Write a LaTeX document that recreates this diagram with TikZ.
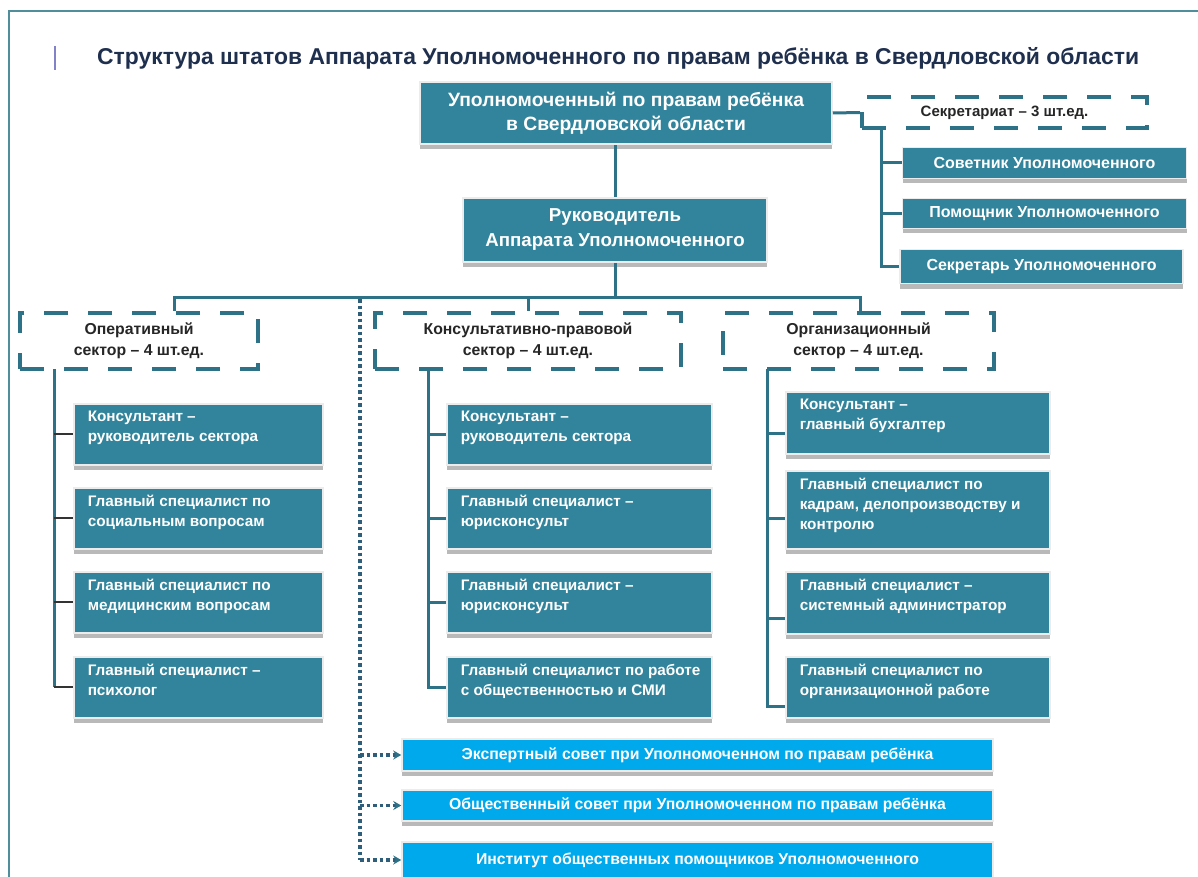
\documentclass[tikz,border=0pt]{standalone}
\usepackage{fontspec}
\setmainfont{Liberation Sans}
\usetikzlibrary{shadows,arrows.meta,calc}
\definecolor{tealfill}{HTML}{31849B}
\definecolor{tealline}{HTML}{2E7288}
\definecolor{skyfill}{HTML}{00A8EC}
\definecolor{titlecol}{HTML}{1F2F4E}
\definecolor{framecol}{HTML}{4F8E9A}
\definecolor{dotcol}{HTML}{2E5E7A}
\definecolor{dashtext}{HTML}{262626}
\newcommand{\celltxt}[3]{\parbox[c][#2pt][t]{#1pt}{\raggedright\leftskip=14pt\relax\fontsize{15.3}{20}\selectfont\vspace*{7pt}#3\par}}
\begin{document}
\begin{tikzpicture}[x=1pt,y=-1pt,
  tbox/.style={fill=tealfill, draw=gray!15, line width=1.5pt,
    drop shadow={shadow xshift=0pt, shadow yshift=-5pt, fill=gray!55, opacity=1},
    text=white, font=\bfseries, inner sep=0pt, align=center},
  cellbox/.style={tbox, align=left},
  skybox/.style={fill=skyfill, draw=gray!15, line width=1.5pt,
    drop shadow={shadow xshift=0pt, shadow yshift=-5pt, fill=gray!55, opacity=1},
    text=white, font=\bfseries\fontsize{15.8}{18}\selectfont, inner sep=0pt,
    minimum width=591pt},
  sectbox/.style={draw=tealline, line width=4pt, dash pattern=on 24pt off 20pt,
    fill=white, text=dashtext, font=\bfseries\fontsize{15.8}{21}\selectfont,
    align=center, inner sep=0pt, minimum height=56pt},
  conn/.style={draw=tealline, line width=3pt},
  thinconn/.style={draw=black!80, line width=2pt},
  dotline/.style={draw=dotcol, line width=3.5pt, dash pattern=on 3.5pt off 3pt},
  dotarrow/.style={dotline, -{Stealth[length=8pt,width=9pt,color=tealline,fill=tealline]}}
]
\useasboundingbox (0,0) rectangle (1198,877);
\fill[white] (0,0) rectangle (1198,877);
% frame
\draw[framecol, line width=2.5pt] (9,900) -- (9,11) -- (1220,11);
% title
\draw[gray!60!blue!70, line width=2pt] (55,46) -- (55,70);
\node[anchor=west, font=\bfseries\fontsize{22.9}{26}\selectfont, text=titlecol, inner sep=0pt] (title) at (97,58)
  {Структура штатов Аппарата Уполномоченного по правам ребёнка в Свердловской области};

% top boxes
\node[tbox, minimum width=412pt, minimum height=62pt, font=\bfseries\fontsize{19.3}{24}\selectfont] (boss) at (626,113)
  {Уполномоченный по правам ребёнка\\в Свердловской  области};
\node[tbox, minimum width=304pt, minimum height=64pt, font=\bfseries\fontsize{18.7}{25}\selectfont] (head) at (615,230)
  {Руководитель\\Аппарата Уполномоченного};

% secretariat
\node[sectbox, minimum width=285pt, minimum height=31pt, font=\bfseries\fontsize{15}{17}\selectfont] (secr) at (1004.5,112.5)
  {Секретариат – 3 шт.ед.};
\node[tbox, minimum width=284pt, minimum height=31pt, font=\bfseries\fontsize{16}{18}\selectfont] (sov) at (1044.5,163)
  {Советник Уполномоченного};
\node[tbox, minimum width=284pt, minimum height=30pt, font=\bfseries\fontsize{16}{18}\selectfont] (pom) at (1044.5,213.5)
  {Помощник Уполномоченного};
\node[tbox, minimum width=283pt, minimum height=34pt, font=\bfseries\fontsize{16}{18}\selectfont] (sek) at (1041.5,266.5)
  {Секретарь Уполномоченного};

% sector headers
\node[sectbox, minimum width=238pt] (sec1) at (139,341) {Оперативный\\сектор – 4 шт.ед.};
\node[sectbox, minimum width=306pt] (sec2) at (528,341) {Консультативно-правовой\\сектор – 4 шт.ед.};
\node[sectbox, minimum width=271pt] (sec3) at (858.5,341) {Организационный\\сектор – 4 шт.ед.};

% sector 1 cells
\node[cellbox, anchor=north west] (a1) at (73,403) {\celltxt{249}{61}{Консультант –\\руководитель сектора}};
\node[cellbox, anchor=north west] (a2) at (73,487) {\celltxt{249}{61}{Главный специалист по\\социальным вопросам}};
\node[cellbox, anchor=north west] (a3) at (73,571) {\celltxt{249}{61}{Главный специалист по\\медицинским вопросам}};
\node[cellbox, anchor=north west] (a4) at (73,656) {\celltxt{249}{61}{Главный специалист –\\психолог}};

% sector 2 cells
\node[cellbox, anchor=north west] (b1) at (446,403) {\celltxt{265}{61}{Консультант –\\руководитель сектора}};
\node[cellbox, anchor=north west] (b2) at (446,487) {\celltxt{265}{61}{Главный специалист –\\юрисконсульт}};
\node[cellbox, anchor=north west] (b3) at (446,571) {\celltxt{265}{61}{Главный специалист –\\юрисконсульт}};
\node[cellbox, anchor=north west] (b4) at (446,656) {\celltxt{265}{61}{Главный специалист по работе\\с общественностью и СМИ}};

% sector 3 cells
\node[cellbox, anchor=north west] (c1) at (785,391) {\celltxt{264}{62}{Консультант –\\главный бухгалтер}};
\node[cellbox, anchor=north west] (c2) at (785,470) {\celltxt{264}{78}{Главный специалист по\\кадрам, делопроизводству и\\контролю}};
\node[cellbox, anchor=north west] (c3) at (785,571) {\celltxt{264}{62}{Главный специалист –\\системный администратор}};
\node[cellbox, anchor=north west] (c4) at (785,656) {\celltxt{264}{61}{Главный специалист по\\организационной работе}};

% bottom boxes
\node[skybox, minimum height=32pt] (ex) at (697.5,755) {Экспертный совет при Уполномоченном по правам ребёнка};
\node[skybox, minimum height=31pt] (ob) at (697.5,805.5) {Общественный совет при Уполномоченном по правам ребёнка};
\node[skybox, minimum height=36pt] (in) at (697.5,860) {Институт общественных помощников Уполномоченного};

% connectors top
\draw[conn] (head.north) -- (head.north |- boss.south);
\draw[conn] (boss.east) -- (secr.west);
\coordinate (st) at (881,128);
\draw[conn] (st) |- (sek.west);
\draw[conn] (st |- sov.west) -- (sov.west);
\draw[conn] (st |- pom.west) -- (pom.west);

% bus
\coordinate (busL) at (174,297);
\coordinate (busR) at (860,297);
\draw[conn] (head.south) -- (head.south |- busL);
\draw[conn] (sec1.north -| busL) -- (busL) -- (busR) -- (busR |- sec3.north);
\draw[conn] (sec2.north) -- (sec2.north |- busL);

% sector 1 tree
\coordinate (t1) at (54,369);
\draw[conn] (t1) -- (t1 |- a4.west);
\foreach \n in {a1,a2,a3,a4} \draw[thinconn] (t1 |- \n.west) -- (\n.west);
% sector 2 tree
\coordinate (t2) at (428,369);
\draw[conn] (t2) |- (b4.west);
\foreach \n in {b1,b2,b3} \draw[conn] (t2 |- \n.west) -- (\n.west);
% sector 3 tree
\coordinate (t3) at (767,369);
\coordinate (c1p) at ([yshift=-11pt]c1.west);
\coordinate (c2p) at ([yshift=-9pt]c2.west);
\coordinate (c3p) at ([yshift=-16pt]c3.west);
\coordinate (c4p) at ([yshift=-19pt]c4.west);
\draw[conn] (t3) |- (c4p);
\draw[conn] (t3 |- c1p) -- (c1p);
\draw[conn] (t3 |- c2p) -- (c2p);
\draw[conn] (t3 |- c3p) -- (c3p);

% dotted
\coordinate (dtop) at (360,299);
\draw[dotline] (dtop) -- (dtop |- in.west);
\draw[dotarrow] (dtop |- ex.west) -- (ex.west);
\draw[dotarrow] (dtop |- ob.west) -- (ob.west);
\draw[dotarrow] (dtop |- in.west) -- (in.west);
\end{tikzpicture}
\end{document}
